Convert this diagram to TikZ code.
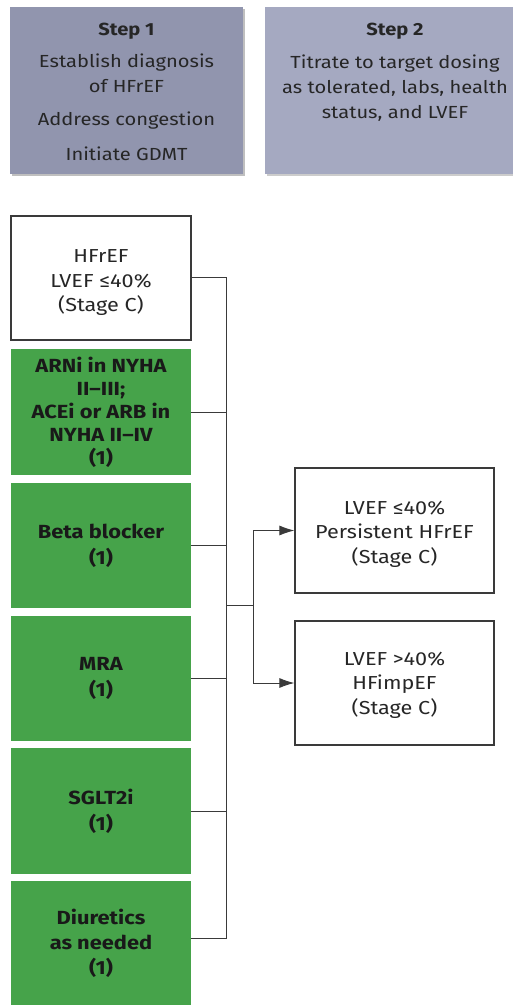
\documentclass[tikz,border=0pt]{standalone}
\usepackage{fontspec}
\setmainfont{Fira Sans}[FakeStretch=1.15]
\usetikzlibrary{arrows.meta}
\definecolor{stepA}{HTML}{9195AE}
\definecolor{stepB}{HTML}{A5A9C1}
\definecolor{gdmt}{HTML}{46A34A}
\definecolor{linec}{HTML}{3A3A3A}
\tikzset{
  stepbox/.style={draw=none, minimum width=#1, minimum height=167pt, inner sep=0pt},
  steptext/.style={anchor=north, align=center, font=\fontsize{17.5}{25}\selectfont, text=black!85},
  whitebox/.style={draw=linec, line width=1.2pt, fill=white, minimum width=#1, minimum height=124pt, inner sep=0pt},
  boxtext/.style={align=center, font=\fontsize{18.8}{24.5}\selectfont, text=black!85},
  greenbox/.style={fill=gdmt, minimum width=180pt, minimum height=#1, align=center, font=\fontsize{19}{26}\selectfont\bfseries, text=black!90},
  conn/.style={draw=linec, line width=0.9pt},
  arr/.style={conn, -{Latex[length=15pt,width=10pt]}}
}
\begin{document}
\begin{tikzpicture}[x=1pt,y=-1pt]
\useasboundingbox (0,0) rectangle (512,1005);
% step boxes
\fill[black!25] (12,9) rectangle (245,176);
\node[stepbox=233pt, fill=stepA] (s1) at (126.5,90.5) {};
\fill[black!20] (267,9) rectangle (540,176);
\node[stepbox=275pt, fill=stepB] (s2) at (402.5,90.5) {};
\node[steptext] (s1t) at (126.5,19.5) {\textbf{Step 1}\\[7pt]Establish diagnosis\\of HFrEF\\[8pt]Address congestion\\[10pt]Initiate GDMT};
\node[steptext] (s2t) at (395,19.5) {\textbf{Step 2}\\[8pt]Titrate to target dosing\\as tolerated, labs, health\\status, and LVEF};
% left column
\node[whitebox=180pt] (hf) at (101,278) {};
\node[boxtext] (hft) at ([yshift=-5pt]hf.center) {HFrEF\\LVEF ≤40\%\\(Stage C)};
\node[greenbox=126pt, font=\fontsize{19}{23}\selectfont\bfseries] (g1) at (101,412) {ARNi in NYHA\\II–III;\\ACEi or ARB in\\NYHA II–IV\\(1)};
\node[greenbox=125pt] (g2) at (101,545.5) {Beta blocker\\(1)};
\node[greenbox=125pt] (g3) at (101,678.5) {MRA\\(1)};
\node[greenbox=126pt] (g4) at (101,811) {SGLT2i\\(1)};
\node[greenbox=124pt, font=\fontsize{19}{25}\selectfont\bfseries] (g5) at (101,943) {Diuretics\\as needed\\(1)};
% right boxes
\node[whitebox=199pt, minimum height=125pt] (r1) at (394.5,530.5) {};
\node[boxtext] (r1t) at ([yshift=-3.5pt]r1.center) {LVEF ≤40\%\\Persistent HFrEF\\(Stage C)};
\node[whitebox=199pt, minimum height=124pt] (r2) at (394.5,683) {};
\node[boxtext] (r2t) at ([yshift=-2pt]r2.center) {LVEF >40\%\\HFimpEF\\(Stage C)};
% connectors
\coordinate (bus) at (226,605);
\coordinate (split) at (253,605);
\draw[conn] (hf.east |- 0,277) -- (226,277) -- (226,938) -- (g5.east |- 0,938);
\draw[conn] (g1.east) -- (g1.east -| bus);
\draw[conn] (g2.east) -- (g2.east -| bus);
\draw[conn] (g3.east) -- (g3.east -| bus);
\draw[conn] (g4.east) -- (g4.east -| bus);
\draw[conn] (bus) -- (split);
\draw[arr] (split) -- (split |- r1.west) -- (r1.west);
\draw[arr] (split) -- (split |- r2.west) -- (r2.west);
\end{tikzpicture}
\end{document}
